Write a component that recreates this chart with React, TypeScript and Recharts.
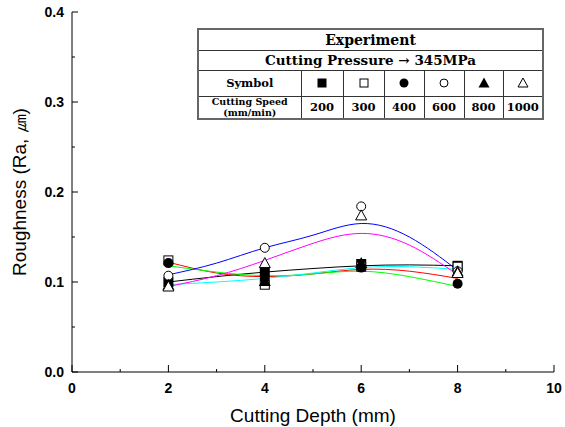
import React from "react";
import { ComposedChart, Line, Scatter, XAxis, YAxis } from "recharts";

// measured points (cutting depth in mm)
const depths = [2, 4, 6, 8];
const speeds = [200, 300, 400, 600, 800, 1000];

const ra200 = [0.1, 0.111, 0.12, 0.118];
const ra300 = [0.124, 0.097, 0.117, 0.117];
const ra400 = [0.121, 0.104, 0.116, 0.098];
const ra600 = [0.107, 0.138, 0.184, 0.112];
const ra800 = [0.097, 0.101, 0.121, 0.112];
const ra1000 = [0.095, 0.121, 0.174, 0.11];

// fitted curves
const fitDepths = [2, 3, 4, 5, 6, 7, 8];
const fit200 = [0.1, 0.106, 0.111, 0.115, 0.118, 0.119, 0.118];
const fit300 = [0.122, 0.11, 0.106, 0.109, 0.114, 0.112, 0.104];
const fit400 = [0.118, 0.111, 0.107, 0.109, 0.112, 0.106, 0.095];
const fit600 = [0.108, 0.121, 0.138, 0.152, 0.165, 0.15, 0.113];
const fit800 = [0.097, 0.1, 0.104, 0.11, 0.116, 0.117, 0.114];
const fit1000 = [0.095, 0.107, 0.124, 0.143, 0.154, 0.141, 0.108];

const xTicks = [0, 1, 2, 3, 4, 5, 6, 7, 8, 9, 10];
const yTicks = [0, 0.05, 0.1, 0.15, 0.2, 0.25, 0.3, 0.35, 0.4];

const colors = ["#000000", "#ff0000", "#00ff00", "#0000ff", "#00ffff", "#ff00ff"];
const shapes = ["square", "openSquare", "circle", "openCircle", "triangle", "openTriangle"];

const measured = [ra200, ra300, ra400, ra600, ra800, ra1000];
const fits = [fit200, fit300, fit400, fit600, fit800, fit1000];

const series = speeds.map((speed, i) => ({
  speed,
  color: colors[i],
  shape: shapes[i],
  points: depths.map((x, j) => ({ x, y: measured[i][j] })),
  fit: fitDepths.map((x, j) => ({ x, y: fits[i][j] })),
}));

const sansFont = "'Liberation Sans', Arial, sans-serif";
const serifFont = "'DejaVu Serif', serif";

function Marker({ kind, cx, cy, s = 5 }: { kind: string; cx: number; cy: number; s?: number }) {
  switch (kind) {
    case "square":
      return <rect x={cx - s} y={cy - s} width={s * 2} height={s * 2} fill="#000" />;
    case "openSquare":
      return <rect x={cx - s + 0.5} y={cy - s + 0.5} width={s * 2 - 1} height={s * 2 - 1} fill="#fff" stroke="#000" />;
    case "circle":
      return <circle cx={cx} cy={cy} r={s} fill="#000" />;
    case "openCircle":
      return <circle cx={cx} cy={cy} r={s - 0.5} fill="#fff" stroke="#000" />;
    case "triangle":
      return <polygon points={`${cx},${cy - s - 1} ${cx + s + 1},${cy + s} ${cx - s - 1},${cy + s}`} fill="#000" />;
    default:
      return (
        <polygon
          points={`${cx},${cy - s - 0.5} ${cx + s + 0.5},${cy + s - 0.5} ${cx - s - 0.5},${cy + s - 0.5}`}
          fill="#fff"
          stroke="#000"
        />
      );
  }
}

function BottomTick(props: any) {
  const { x, y, payload } = props;
  const major = payload.value % 2 === 0;
  return (
    <g>
      <line x1={x} x2={x} y1={y} y2={y - (major ? 7 : 3)} stroke="#000" />
      {major && (
        <text x={x} y={y + 21} textAnchor="middle" fontSize={14} fontWeight="bold" fontFamily={sansFont} fill="#000">
          {payload.value}
        </text>
      )}
    </g>
  );
}

function TopTick(props: any) {
  const { x, y, payload } = props;
  const major = payload.value % 2 === 0;
  return <line x1={x} x2={x} y1={y} y2={y + (major ? 7 : 3)} stroke="#000" />;
}

function LeftTick(props: any) {
  const { x, y, payload } = props;
  const major = Math.round(payload.value * 100) % 10 === 0;
  return (
    <g>
      <line x1={x} x2={x + (major ? 6 : 3)} y1={y} y2={y} stroke="#000" />
      {major && (
        <text x={x - 8} y={y + 5} textAnchor="end" fontSize={14} fontWeight="bold" fontFamily={sansFont} fill="#000">
          {payload.value.toFixed(1)}
        </text>
      )}
    </g>
  );
}

function RightTick(props: any) {
  const { x, y, payload } = props;
  const major = Math.round(payload.value * 100) % 10 === 0;
  return <line x1={x} x2={x - (major ? 6 : 3)} y1={y} y2={y} stroke="#000" />;
}

const cell: React.CSSProperties = {
  border: "1px solid #333",
  padding: 0,
  textAlign: "center",
  verticalAlign: "middle",
  fontFamily: serifFont,
  fontWeight: "bold",
  fontSize: 11.5,
  color: "#000",
  whiteSpace: "nowrap",
  overflow: "hidden",
};

function LegendTable() {
  const colWidths = [103, 42, 41, 40, 40, 39, 40];
  return (
    <table
      style={{
        position: "absolute",
        left: 197,
        top: 28,
        width: 345,
        height: 88,
        borderCollapse: "collapse",
        tableLayout: "fixed",
        border: "2px solid #666",
        background: "#fff",
      }}
    >
      <colgroup>
        {colWidths.map((w, i) => (
          <col key={i} style={{ width: w }} />
        ))}
      </colgroup>
      <tbody>
        <tr style={{ height: 21 }}>
          <td colSpan={7} style={{ ...cell, fontSize: 14 }}>Experiment</td>
        </tr>
        <tr style={{ height: 20 }}>
          <td colSpan={7} style={{ ...cell, fontSize: 13.5 }}>Cutting Pressure → 345MPa</td>
        </tr>
        <tr style={{ height: 26 }}>
          <td style={{ ...cell, fontSize: 11.5 }}>Symbol</td>
          {series.map((s) => (
            <td key={s.speed} style={cell}>
              <svg width={12} height={12} style={{ display: "block", margin: "0 auto" }}>
                <Marker kind={s.shape} cx={6} cy={6} s={4.5} />
              </svg>
            </td>
          ))}
        </tr>
        <tr style={{ height: 21 }}>
          <td style={{ ...cell, fontSize: 9.5 }}>
            <div style={{ lineHeight: "10px", height: 10 }}>Cutting Speed</div>
            <div style={{ lineHeight: "10px", height: 10, marginTop: 1 }}>(mm/min)</div>
          </td>
          {series.map((s) => (
            <td key={s.speed} style={cell}>
              {s.speed}
            </td>
          ))}
        </tr>
      </tbody>
    </table>
  );
}

export default function App() {
  return (
    <div style={{ position: "absolute", left: 0, top: 0, width: 565, height: 427, background: "#fff" }}>
      <ComposedChart width={565} height={427} margin={{ top: 12, right: 11, left: 0, bottom: 0 }}>
        <XAxis
          xAxisId="bottom"
          dataKey="x"
          type="number"
          domain={[0, 10]}
          ticks={xTicks}
          interval={0}
          allowDataOverflow
          height={55}
          tickSize={0}
          tickMargin={0}
          tick={<BottomTick />}
          axisLine={{ stroke: "#000" }}
          label={(p: any) => (
            <text
              x={p.viewBox.x + p.viewBox.width / 2}
              y={p.viewBox.y + 50}
              textAnchor="middle"
              fontSize={19}
              fontFamily={sansFont}
              fill="#000"
            >
              Cutting Depth (mm)
            </text>
          )}
        />
        <XAxis
          xAxisId="top"
          orientation="top"
          dataKey="x"
          type="number"
          domain={[0, 10]}
          ticks={xTicks}
          interval={0}
          allowDataOverflow
          height={0}
          tickSize={0}
          tickMargin={0}
          tick={<TopTick />}
          axisLine={{ stroke: "#000" }}
        />
        <YAxis
          yAxisId="left"
          type="number"
          domain={[0, 0.4]}
          ticks={yTicks}
          interval={0}
          allowDataOverflow
          width={72}
          tickSize={0}
          tickMargin={0}
          tick={<LeftTick />}
          axisLine={{ stroke: "#000" }}
          label={(p: any) => {
            const cx = 19;
            const cy = p.viewBox.y + p.viewBox.height / 2;
            return (
              <text
                x={cx}
                y={cy}
                transform={`rotate(-90 ${cx} ${cy})`}
                textAnchor="middle"
                dominantBaseline="central"
                fontSize={19}
                fontFamily={sansFont}
                fill="#000"
              >
                Roughness (Ra, ㎛)
              </text>
            );
          }}
        />
        <YAxis
          yAxisId="right"
          orientation="right"
          type="number"
          domain={[0, 0.4]}
          ticks={yTicks}
          interval={0}
          allowDataOverflow
          width={0}
          tickSize={0}
          tickMargin={0}
          tick={<RightTick />}
          axisLine={{ stroke: "#000" }}
        />
        {series.map((s) => (
          <Line
            key={`fit-${s.speed}`}
            xAxisId="bottom"
            yAxisId="left"
            data={s.fit}
            dataKey="y"
            type="natural"
            stroke={s.color}
            strokeWidth={1}
            dot={false}
            activeDot={false}
            isAnimationActive={false}
          />
        ))}
        {series.map((s) => (
          <Scatter
            key={`pts-${s.speed}`}
            xAxisId="bottom"
            yAxisId="left"
            data={s.points}
            dataKey="y"
            isAnimationActive={false}
            shape={(p: any) => <Marker kind={s.shape} cx={p.cx} cy={p.cy} />}
          />
        ))}
      </ComposedChart>
      <LegendTable />
    </div>
  );
}
